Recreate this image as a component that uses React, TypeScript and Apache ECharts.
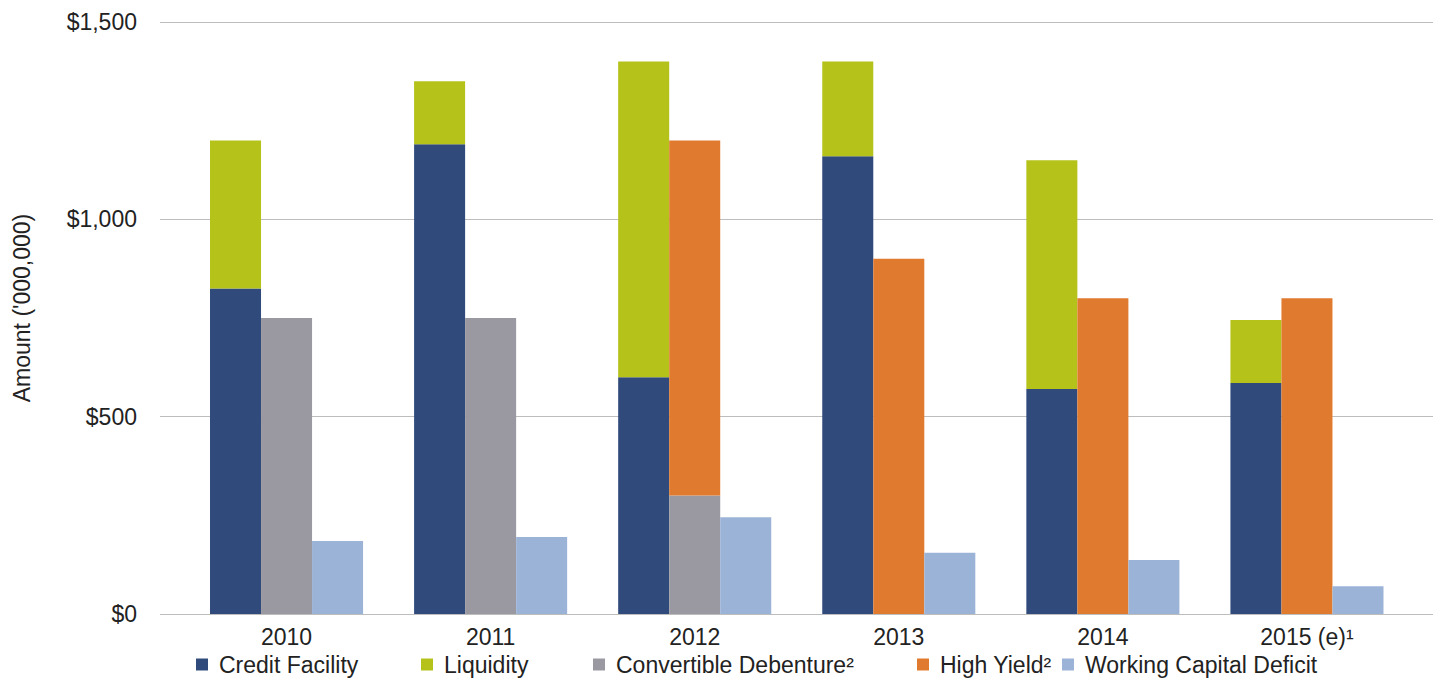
import React, { useEffect, useRef } from "react";
import * as echarts from "echarts";

const categories = ["2010", "2011", "2012", "2013", "2014", "2015 (e)¹"];
const creditFacility = [825, 1190, 600, 1160, 570, 585];
const liquidity = [375, 160, 800, 240, 580, 160];
const convertibleDebenture = [750, 750, 300, 0, 0, 0];
const highYield = [0, 0, 900, 900, 800, 800];
const workingCapitalDeficit = [185, 195, 245, 155, 137, 70];
const yTicks = [0, 500, 1000, 1500];
const seriesNames = [
  "Credit Facility",
  "Liquidity",
  "Convertible Debenture²",
  "High Yield²",
  "Working Capital Deficit",
];
const seriesColors = ["#2f4a7b", "#b4c21a", "#9a99a1", "#e07a2e", "#9bb3d7"];
const legendLefts = [196, 421, 593, 917, 1062];

const FONT = "'Liberation Sans', Arial, Helvetica, sans-serif";
const TEXT = "#222222";

export default function App() {
  const ref = useRef<HTMLDivElement>(null);
  useEffect(() => {
    if (!ref.current) return;
    const chart = echarts.init(ref.current, null, { renderer: "svg" });
    const fmt = (v: number) => "$" + v.toLocaleString("en-US");
    const seriesData = [
      { data: creditFacility, stack: "a" },
      { data: liquidity, stack: "a" },
      { data: convertibleDebenture, stack: "b" },
      { data: highYield, stack: "b" },
      { data: workingCapitalDeficit, stack: "c" },
    ];
    const option: any = {
      animation: false,
      backgroundColor: "#ffffff",
      textStyle: { fontFamily: FONT, color: TEXT },
      grid: [
        { left: 160, right: 12, top: 22, bottom: 73, containLabel: false },
        { left: 184.5, right: 36, top: 22, bottom: 73, containLabel: false },
      ],
      xAxis: [
        { type: "category", gridIndex: 0, data: categories, show: false },
        {
          type: "category",
          gridIndex: 1,
          data: categories,
          axisLine: { show: false },
          axisTick: { show: false },
          axisLabel: { fontSize: 23, color: TEXT, fontFamily: FONT, margin: 11 },
        },
      ],
      yAxis: [
        {
          type: "value",
          gridIndex: 0,
          min: yTicks[0],
          max: yTicks[yTicks.length - 1],
          interval: 500,
          name: "Amount ('000,000)",
          nameLocation: "middle",
          nameGap: 127,
          nameTextStyle: { fontSize: 23, color: TEXT, fontFamily: FONT, padding: [0, 0, 0, 20] },
          axisLine: { show: false },
          axisTick: { show: false },
          axisLabel: { fontSize: 23, color: TEXT, fontFamily: FONT, margin: 23, formatter: fmt },
          splitLine: { show: true, lineStyle: { color: "#bdbdbd", width: 1.2 } },
        },
        {
          type: "value",
          gridIndex: 1,
          min: yTicks[0],
          max: yTicks[yTicks.length - 1],
          interval: 500,
          show: false,
          splitLine: { show: false },
        },
      ],
      legend: seriesNames.map((n, i) => ({
        left: legendLefts[i],
        top: 653,
        padding: 0,
        itemWidth: 12,
        itemHeight: 12,
        icon: "rect",
        textStyle: { fontSize: 23, color: TEXT, fontFamily: FONT, padding: [0, 0, 0, 6] },
        data: [n],
      })),
      series: seriesData.map((s, i) => ({
        name: seriesNames[i],
        type: "bar",
        xAxisIndex: 1,
        yAxisIndex: 1,
        stack: s.stack,
        data: s.data,
        itemStyle: { color: seriesColors[i] },
        barGap: "0%",
        barCategoryGap: "25%",
      })),
    };
    chart.setOption(option);
    return () => chart.dispose();
  }, []);
  return (
    <div
      ref={ref}
      style={{ position: "fixed", left: 0, top: 0, width: 1445, height: 687 }}
    />
  );
}
